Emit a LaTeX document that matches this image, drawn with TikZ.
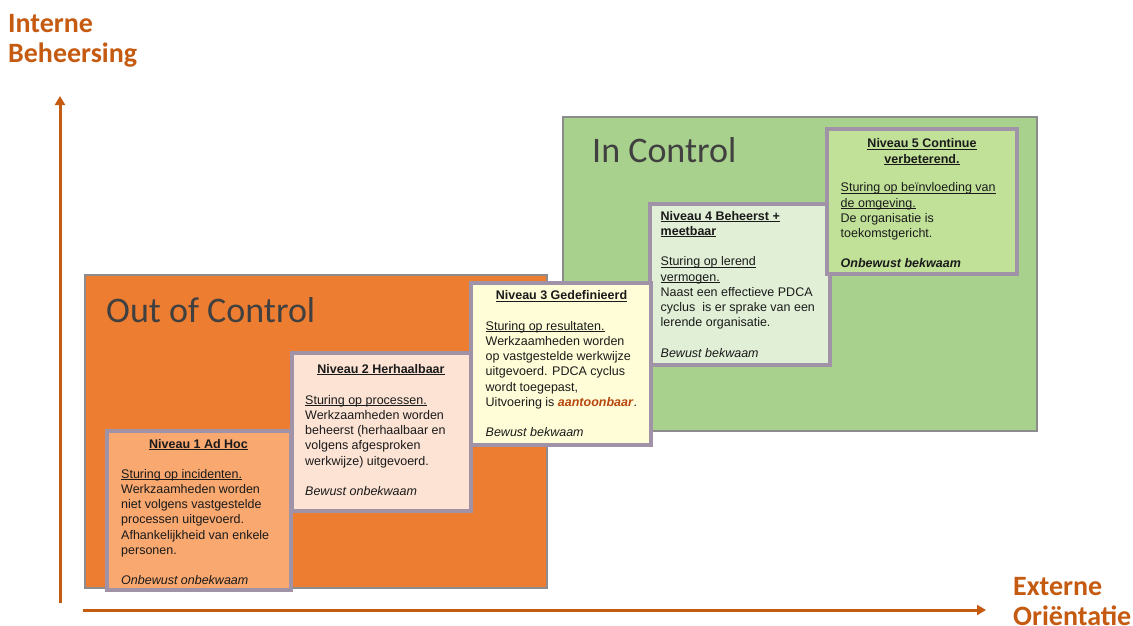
\documentclass[tikz,border=0pt]{standalone}
\usepackage{fontspec}
\setmainfont{Liberation Sans}
\newfontfamily\carlito{Carlito}
\usetikzlibrary{arrows.meta}
\definecolor{axisor}{HTML}{C55A11}
\definecolor{outfill}{HTML}{ED7D31}
\definecolor{infill}{HTML}{A9D18E}
\definecolor{bigborder}{HTML}{8C8C8C}
\definecolor{lvborder}{HTML}{A093A8}
\definecolor{lvone}{HTML}{F9A870}
\definecolor{lvtwo}{HTML}{FCE3D4}
\definecolor{lvthree}{HTML}{FFFDD7}
\definecolor{lvfour}{HTML}{E1EFD7}
\definecolor{lvfive}{HTML}{C1E199}
\definecolor{txt}{HTML}{1A1A1A}
\definecolor{labgray}{HTML}{404040}
\definecolor{accent}{HTML}{B8470F}
\newcommand\bodyfont{\fontsize{12.5}{15.2}\selectfont}
\newcommand\uln[1]{\setbox0\hbox{#1}\rlap{\rule[-1.8pt]{\wd0}{0.8pt}}\box0}
\tikzset{
  bigbox/.style={draw=bigborder, line width=2pt},
  lvbox/.style={draw=lvborder, line width=3.6pt},
  lvtitle/.style={anchor=north, inner sep=0pt, align=center, font=\bodyfont\bfseries, text=txt},
  lvbody/.style={anchor=north west, inner sep=0pt, align=left, font=\bodyfont, text=txt},
  biglabel/.style={anchor=base west, inner sep=0pt, font=\carlito\fontsize{36}{40}\selectfont, text=labgray},
  axislabel/.style={anchor=base west, inner sep=0pt, align=left, font=\carlito\bfseries\fontsize{28}{30.5}\selectfont, text=axisor},
  axis/.style={draw=axisor, line width=3pt, -{Triangle[width=10pt,length=9pt]}}
}
\begin{document}
\begin{tikzpicture}[x=1pt,y=-1pt]
\useasboundingbox (0,0) rectangle (1133,626);
% big areas
\draw[bigbox, fill=infill] (563,117) rectangle (1037,431);
\draw[bigbox, fill=outfill] (85,275) rectangle (547,588);
\node[biglabel] (outlab) at (106,322) {Out of Control};
\node[biglabel] (inlab) at (592,162) {In Control};
% level boxes
\draw[lvbox, fill=lvfour] (650,204) rectangle (830,365);
\draw[lvbox, fill=lvfive] (827,129) rectangle (1017,274);
\draw[lvbox, fill=lvthree] (471,283) rectangle (651,445);
\draw[lvbox, fill=lvtwo] (292,353) rectangle (471,511);
\draw[lvbox, fill=lvone] (107,431) rectangle (291,590);
% level 1
\node[lvtitle] (t1) at (198.5,437.4) {\strut\uln{Niveau 1 Ad Hoc}};
\node[lvbody] (b1) at (121,467.4) {\strut\uln{Sturing op incidenten.}\\
Werkzaamheden worden\\
niet volgens vastgestelde\\
processen uitgevoerd.\\
Afhankelijkheid van enkele\\
personen.\\[15.2pt]
\textit{Onbewust onbekwaam}};
% level 2
\node[lvtitle] (t2) at (381,362.4) {\strut\uln{Niveau 2 Herhaalbaar}};
\node[lvbody] (b2) at (305,393.4) {\strut\uln{Sturing op processen.}\\
Werkzaamheden worden\\
beheerst (herhaalbaar en\\
volgens afgesproken\\
werkwijze) uitgevoerd.\\[15.2pt]
\textit{Bewust onbekwaam}};
% level 3
\node[lvtitle] (t3) at (561.5,289) {\strut\uln{Niveau 3 Gedefinieerd}};
\node[lvbody] (b3) at (485.5,319.4) {\strut\uln{Sturing op resultaten.}\\
Werkzaamheden worden\\
op vastgestelde werkwijze\\
uitgevoerd. PDCA cyclus\\
wordt toegepast,\\
Uitvoering is \textcolor{accent}{\textbf{\textit{aantoonbaar}}}.\\[15.2pt]
\textit{Bewust bekwaam}};
% level 4
\node[lvbody] (b4) at (660.5,209.4) {\strut\uln{\textbf{Niveau 4 Beheerst +}}\\
\uln{\textbf{meetbaar}}\\[15.2pt]
\uln{Sturing op lerend}\\
\uln{vermogen.}\\
Naast een effectieve PDCA\\
cyclus\ \ is er sprake van een\\
lerende organisatie.\\[15.2pt]
\textit{Bewust bekwaam}};
% level 5
\node[lvtitle] (t5) at (922,137.1) {\strut\uln{Niveau 5 Continue}\\\uln{verbeterend.}};
\node[lvbody] (b5) at (840.5,181.1) {\strut\uln{Sturing op beïnvloeding van}\\
\uln{de omgeving.}\\
De organisatie is\\
toekomstgericht.\\[15.2pt]
\textbf{\textit{Onbewust bekwaam}}};
% axes
\coordinate (ybot) at (60,603);
\coordinate (ytop) at (60,96);
\coordinate (xleft) at (83,610);
\coordinate (xright) at (986,610);
\draw[axis] (ybot) -- (ytop);
\draw[axis] (xleft) -- (xright);
\node[axislabel] (ylab) at (8,63) {Interne\\Beheersing};
\node[axislabel] (xlab) at (1013,625.5) {Externe\\Oriëntatie};
\end{tikzpicture}
\end{document}
